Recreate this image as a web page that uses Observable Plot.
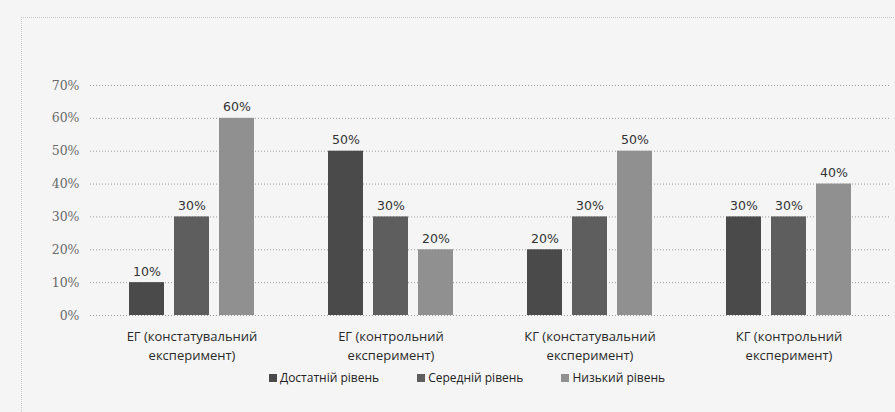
<!DOCTYPE html>
<html>
<head>
<meta charset="utf-8">
<script src="https://cdn.jsdelivr.net/npm/d3@7"></script>
<script src="https://cdn.jsdelivr.net/npm/@observablehq/plot@0.6"></script>
<style>
  html, body { margin: 0; padding: 0; background: #f5f5f5; }
  #wrap { position: relative; width: 895px; height: 412px; overflow: hidden; font-family: "Open Sans", Lato, sans-serif; }
  #frame { position: absolute; left: 21px; top: 17px; width: 900px; height: 420px; border-left: 1px dotted #c8c8c8; border-top: 1px dotted #c8c8c8; pointer-events: none; }
  #legend { position: absolute; left: 0; top: 369px; width: 934px; display: flex; justify-content: center; gap: 38px; font-size: 12px; color: #222; }
  #legend span.sw { display: inline-block; width: 8px; height: 8px; margin-right: 3px; vertical-align: 0px; }
</style>
</head>
<body>
<div id="wrap">
  <div id="chart"></div>
  <div id="frame"></div>
  <div id="legend"></div>
</div>
<script>
const groups = [
  "ЕГ (констатувальний\nексперимент)",
  "ЕГ (контрольний\nексперимент)",
  "КГ (констатувальний\nексперимент)",
  "КГ (контрольний\nексперимент)"
];
const series = ["Достатній рівень", "Середній рівень", "Низький рівень"];
const dostatniy = [0.10, 0.50, 0.20, 0.30];
const seredniy  = [0.30, 0.30, 0.30, 0.30];
const nyzkyi    = [0.60, 0.20, 0.50, 0.40];
const yTicks = [0, 0.1, 0.2, 0.3, 0.4, 0.5, 0.6, 0.7];
const colors = ["#4a4a4a", "#5e5e5e", "#909090"];

const seriesValues = [dostatniy, seredniy, nyzkyi];
const data = [];
series.forEach((s, si) => groups.forEach((g, gi) => data.push({group: g, series: s, si, value: seriesValues[si][gi]})));

const offset = 45;
const fmt = d3.format(".0%");

const marks = [
  Plot.ruleY(yTicks, {stroke: "#9a9a9a", strokeWidth: 1, strokeDasharray: "1,2"}),
  ...series.map((s, si) => Plot.barY(data.filter(d => d.si === si), {
    x: "group", y: "value", fill: colors[si], dx: (si - 1) * offset
  })),
  ...series.map((s, si) => Plot.text(data.filter(d => d.si === si), {
    x: "group", y: "value", text: d => fmt(d.value), dx: (si - 1) * offset, dy: -7,
    lineAnchor: "bottom", fontSize: 12.5, fontFamily: "'DejaVu Sans', sans-serif", fill: "#333"
  })),
  Plot.text(groups, {
    x: d => d, y: () => 0, text: d => d, dy: 13, lineAnchor: "top", lineHeight: 1.4,
    fontSize: 13, fontFamily: "'Open Sans', sans-serif", fill: "#2a2a2a"
  })
];

const chart = Plot.plot({
  width: 895,
  height: 370,
  marginTop: 85,
  marginBottom: 55,
  marginLeft: 90,
  marginRight: 6,
  style: {background: "transparent", fontFamily: "'DejaVu Serif', serif", fontSize: "12.5px", color: "#6a6a6a"},
  x: {domain: groups, paddingInner: 0.825, paddingOuter: 0.4125, axis: null},
  y: {domain: [0, 0.7], ticks: yTicks, tickFormat: fmt, tickSize: 0, tickPadding: 11, label: null},
  marks
});
document.getElementById("chart").appendChild(chart);

const legend = document.getElementById("legend");
series.forEach((s, i) => {
  const item = document.createElement("div");
  item.innerHTML = `<span class="sw" style="background:${colors[i]}"></span>${s}`;
  legend.appendChild(item);
});
</script>
</body>
</html>
